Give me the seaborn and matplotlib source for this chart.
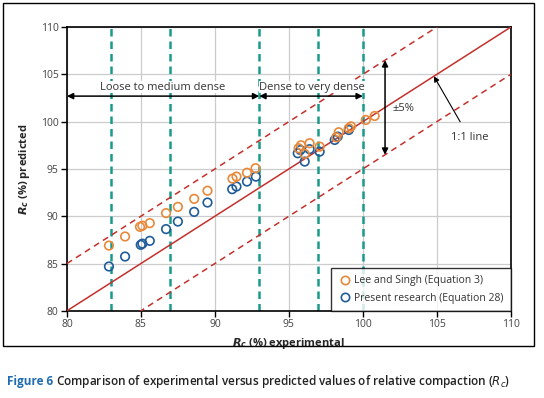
import matplotlib
matplotlib.use("Agg")
import matplotlib.pyplot as plt
import seaborn as sns
import pandas as pd
from matplotlib.lines import Line2D
from matplotlib.patches import Rectangle

# ---- data ----
lee_x = [82.84, 83.93, 84.94, 85.1, 85.6, 86.7, 87.5, 88.6, 89.5,
         91.19, 91.46, 92.17, 92.75,
         95.66, 95.82, 96.07, 96.4, 97.08, 98.21, 98.37, 99.05, 99.2, 100.2, 100.8]
lee_y = [86.9, 87.86, 88.88, 89.0, 89.27, 90.33, 90.99, 91.84, 92.7,
         93.98, 94.19, 94.6, 95.08,
         97.19, 97.5, 96.59, 97.72, 97.36, 98.35, 98.88, 99.3, 99.5, 100.18, 100.6]
pres_x = [82.84, 83.93, 84.99, 85.1, 85.6, 86.7, 87.5, 88.6, 89.5,
          91.17, 91.46, 92.17, 92.77,
          95.6, 95.78, 96.07, 96.4, 97.08, 98.1, 98.3, 99.05]
pres_y = [84.69, 85.74, 86.98, 87.1, 87.4, 88.64, 89.44, 90.46, 91.45,
          92.86, 93.14, 93.67, 94.19,
          96.66, 97.0, 95.78, 97.09, 96.83, 98.07, 98.42, 99.12]
series_names = ["Lee and Singh (Equation 3)", "Present research (Equation 28)"]
boundaries = [83, 87, 93, 97, 100]
ticks = [80, 85, 90, 95, 100, 105, 110]
band = 5

ORANGE = "#E8893A"
BLUE = "#1F5C99"
TEAL = "#1A9A8A"
RED = "#C4302B"

sns.set_theme(style="whitegrid")
plt.rcParams["font.family"] = ["Open Sans", "DejaVu Sans"]
plt.rcParams["mathtext.fontset"] = "dejavusans"

fig = plt.figure(figsize=(5.44, 3.98), dpi=100)
ax = fig.add_axes([0.123, 0.219, 0.816, 0.713])

ax.set_xlim(80, 110)
ax.set_ylim(80, 110)
ax.set_xticks(ticks)
ax.set_yticks(ticks)
ax.grid(True, color="#CCCCCC", linewidth=0.9)
ax.set_axisbelow(True)
for s in ax.spines.values():
    s.set_color("black")
    s.set_linewidth(1.2)
ax.tick_params(axis="both", direction="out", length=4, width=1, color="black",
               labelsize=7.5, labelcolor="#444444", pad=2, bottom=True, left=True)

# boundaries
for b in boundaries:
    ax.axvline(b, color=TEAL, linestyle=(0, (3, 2)), linewidth=1.8, zorder=2)

# 1:1 and +-5 lines
lx = [80, 110]
ax.plot(lx, lx, color=RED, linewidth=1.1, zorder=3)
ax.plot(lx, [v + band for v in lx], color=RED, linewidth=1.1, linestyle=(0, (4, 3)), zorder=3)
ax.plot(lx, [v - band for v in lx], color=RED, linewidth=1.1, linestyle=(0, (4, 3)), zorder=3)

df_p = pd.DataFrame({"x": pres_x, "y": pres_y})
df_l = pd.DataFrame({"x": lee_x, "y": lee_y})
sns.scatterplot(data=df_p, x="x", y="y", ax=ax, marker="o", s=38,
                facecolor="none", edgecolor=BLUE, linewidth=1.2, zorder=4)
sns.scatterplot(data=df_l, x="x", y="y", ax=ax, marker="o", s=38,
                facecolor="none", edgecolor=ORANGE, linewidth=1.2, zorder=5)

# zone arrows
ay = 102.7
ax.annotate("", xy=(80, ay), xytext=(93, ay),
            arrowprops=dict(arrowstyle="<|-|>", color="black", lw=1.1,
                            mutation_scale=9, shrinkA=0, shrinkB=0), zorder=6)
ax.annotate("", xy=(93, ay), xytext=(100, ay),
            arrowprops=dict(arrowstyle="<|-|>", color="black", lw=1.1,
                            mutation_scale=9, shrinkA=0, shrinkB=0), zorder=6)
ax.text(86.5, ay + 0.35, "Loose to medium dense", ha="center", va="bottom",
        fontsize=8, color="#333333",
        bbox=dict(facecolor="white", edgecolor="none", pad=0.2), zorder=6)
ax.text(96.55, ay + 0.35, "Dense to very dense", ha="center", va="bottom",
        fontsize=8, color="#333333",
        bbox=dict(facecolor="white", edgecolor="none", pad=0.2), zorder=6)

# +-5% arrow
ax.annotate("", xy=(101.5, 106.5), xytext=(101.5, 96.5),
            arrowprops=dict(arrowstyle="<|-|>", color="black", lw=1.1,
                            mutation_scale=9, shrinkA=0, shrinkB=0), zorder=6)
ax.text(102.0, 101.4, "±5%", ha="left", va="center", fontsize=8, color="#333333")

# 1:1 line label
ax.annotate("1:1 line", xy=(104.8, 104.8), xytext=(107.2, 98.3),
            ha="center", va="center", fontsize=8, color="#333333",
            arrowprops=dict(arrowstyle="-|>", color="black", lw=0.8,
                            mutation_scale=8, shrinkA=6, shrinkB=0), zorder=6)

ax.set_xlabel(r"$\mathbfit{R}_\mathbfit{c}$ (%) experimental", fontsize=8,
              fontweight="bold", labelpad=4)
ax.set_ylabel(r"$\mathbfit{R}_\mathbfit{c}$ (%) predicted", fontsize=8,
              fontweight="bold", labelpad=6)

handles = [Line2D([], [], marker="o", linestyle="none", markerfacecolor="none",
                  markeredgecolor=c, markeredgewidth=1.2, markersize=6)
           for c in (ORANGE, BLUE)]
leg = ax.legend(handles, series_names, loc="lower right", fontsize=7.5,
                frameon=True, fancybox=False, borderaxespad=0,
                handletextpad=0.3, labelspacing=0.6, borderpad=0.7,
                handlelength=1.2)
leg.get_frame().set_edgecolor("black")
leg.get_frame().set_linewidth(1.0)
leg.set_zorder(7)
for t in leg.get_texts():
    t.set_color("#333333")

# outer frame
fig.patches.append(Rectangle((3 / 544, 1 - 346 / 398), 531 / 544, 343 / 398,
                             transform=fig.transFigure, fill=False,
                             edgecolor="black", linewidth=1.0))

# caption
t1 = fig.text(7 / 544, 1 - 381 / 398, "Figure 6", fontsize=8.5, fontweight="bold",
              color="#1F6DB0", va="center", ha="left")
fig.canvas.draw()
bb = t1.get_window_extent()
x2 = (bb.x1 + 3) / fig.bbox.width
fig.text(x2, 1 - 381 / 398,
         r"Comparison of experimental versus predicted values of relative compaction ($R_c$)",
         fontsize=8.5, fontweight="semibold", color="#222222", va="center", ha="left")

fig.savefig("out.png", dpi=100)
